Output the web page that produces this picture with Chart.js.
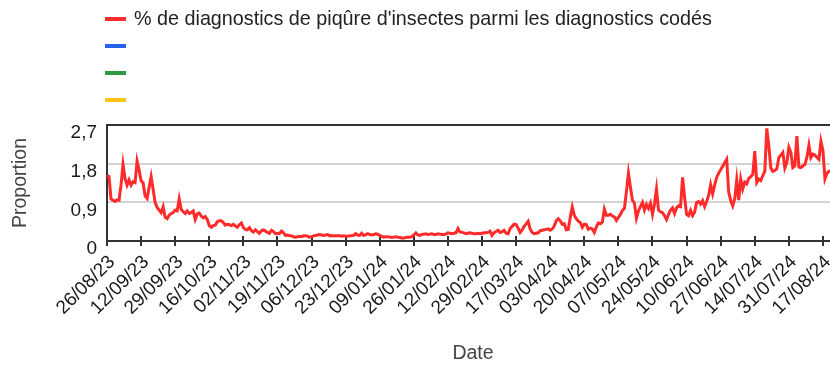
<!DOCTYPE html>
<html lang="fr">
<head>
<meta charset="utf-8">
<script src="https://cdn.jsdelivr.net/npm/chart.js@4.4.1/dist/chart.umd.min.js"></script>
<style>
  html, body { margin: 0; padding: 0; background: #fff; overflow: hidden; width: 830px; height: 365px; }
  #wrap { position: relative; width: 840px; height: 365px; }
  #chart { position: absolute; left: 0; top: 0; }
  #legend { position: absolute; left: 105px; top: 5px; font-family: 'Liberation Sans', Arial, sans-serif; font-size: 19.75px; color: #222; }
  #legend .item { height: 27px; display: flex; align-items: center; white-space: nowrap; }
  #legend .swatch { display: inline-block; width: 21px; height: 4px; margin-right: 8px; }
</style>
</head>
<body>
<div id="wrap">
  <canvas id="chart" width="840" height="365"></canvas>
  <div id="legend"></div>
</div>
<script>
// Axis: one category per day from 26/08/2023
const START = { year: 2023, month: 8, day: 26 };
const AXIS_DAYS = 366;
const TICK_EVERY = 17;

const SERIES_LABEL = "% de diagnostics de piqûre d'insectes parmi les diagnostics codés";
const EXTRA_LABELS = ['', '', ''];

// Daily proportion (%) of insect-bite diagnoses
const proportion = [
  1.52, 1.50, 0.98, 0.95, 0.92, 0.96, 0.95, 1.30, 1.78, 1.45,
  1.30, 1.42, 1.30, 1.38, 1.36, 1.86, 1.65, 1.40, 1.35, 1.05,
  0.99, 1.25, 1.50, 1.20, 0.90, 0.78, 0.72, 0.66, 0.80, 0.55,
  0.52, 0.60, 0.64, 0.66, 0.72, 0.70, 0.98, 0.73, 0.68, 0.64,
  0.70, 0.64, 0.66, 0.70, 0.50, 0.63, 0.65, 0.58, 0.54, 0.57,
  0.50, 0.36, 0.32, 0.36, 0.37, 0.45, 0.47, 0.47, 0.43, 0.37,
  0.39, 0.38, 0.36, 0.39, 0.35, 0.32, 0.38, 0.42, 0.31, 0.27,
  0.26, 0.31, 0.24, 0.21, 0.26, 0.22, 0.18, 0.24, 0.26, 0.23,
  0.20, 0.18, 0.25, 0.22, 0.17, 0.18, 0.17, 0.23, 0.19, 0.13,
  0.14, 0.12, 0.12, 0.10, 0.09, 0.10, 0.11, 0.10, 0.12, 0.12,
  0.11, 0.09, 0.10, 0.12, 0.13, 0.14, 0.15, 0.14, 0.13, 0.14,
  0.15, 0.12, 0.13, 0.12, 0.12, 0.12, 0.12, 0.11, 0.12, 0.11,
  0.11, 0.12, 0.12, 0.13, 0.17, 0.14, 0.13, 0.18, 0.13, 0.15,
  0.17, 0.15, 0.14, 0.15, 0.17, 0.16, 0.13, 0.11, 0.09, 0.10,
  0.10, 0.09, 0.08, 0.09, 0.10, 0.09, 0.08, 0.07, 0.07, 0.08,
  0.09, 0.09, 0.10, 0.14, 0.19, 0.14, 0.13, 0.15, 0.16, 0.17,
  0.15, 0.16, 0.17, 0.15, 0.15, 0.17, 0.16, 0.15, 0.15, 0.16,
  0.19, 0.18, 0.17, 0.18, 0.19, 0.29, 0.21, 0.20, 0.19, 0.17,
  0.18, 0.19, 0.18, 0.17, 0.17, 0.18, 0.17, 0.18, 0.19, 0.19,
  0.20, 0.23, 0.13, 0.19, 0.22, 0.25, 0.20, 0.22, 0.25, 0.18,
  0.17, 0.29, 0.34, 0.39, 0.38, 0.30, 0.20, 0.26, 0.34, 0.40,
  0.46, 0.28, 0.20, 0.17, 0.18, 0.19, 0.24, 0.25, 0.26, 0.27,
  0.28, 0.25, 0.28, 0.35, 0.47, 0.52, 0.47, 0.39, 0.40, 0.26,
  0.27, 0.55, 0.79, 0.60, 0.52, 0.46, 0.43, 0.32, 0.39, 0.38,
  0.27, 0.30, 0.28, 0.20, 0.33, 0.42, 0.40, 0.44, 0.74, 0.60,
  0.60, 0.62, 0.58, 0.56, 0.48, 0.55, 0.62, 0.71, 0.76, 1.15,
  1.58, 1.25, 0.95, 0.88, 0.53, 0.70, 0.80, 0.90, 0.72, 0.85,
  0.76, 0.88, 0.62, 0.86, 1.21, 0.72, 0.68, 0.66, 0.59, 0.50,
  0.62, 0.72, 0.77, 0.64, 0.77, 0.82, 0.80, 1.48, 1.02, 0.62,
  0.59, 0.71, 0.59, 0.67, 0.90, 0.92, 0.86, 0.94, 0.80, 0.92,
  1.06, 1.31, 1.10, 1.30, 1.48, 1.58, 1.66, 1.74, 1.82, 1.90,
  1.14, 0.94, 0.82, 0.98, 1.42, 0.95, 1.44, 1.21, 1.37, 1.33,
  1.46, 1.50, 1.55, 2.09, 1.36, 1.44, 1.41, 1.52, 1.62, 2.62,
  2.22, 1.70, 1.62, 1.64, 1.68, 1.94, 2.00, 2.06, 1.70, 1.83,
  2.18, 2.06, 1.71, 1.75, 2.44, 1.72, 1.71, 1.75, 1.78, 1.95,
  2.23, 1.94, 2.02, 2.00, 1.95, 1.90, 2.32, 2.10, 1.45, 1.58,
  1.62, 1.64
];

const yTickValues = [0, 0.9, 1.8, 2.7];

const COLORS = ['#ff2a2a', '#2563eb', '#2e9a47', '#fbc21a'];
const FONT = "'Liberation Sans', Arial, sans-serif";

function pad2(n) { return String(n).padStart(2, '0'); }
const dates = Array.from({ length: AXIS_DAYS }, (_, i) => {
  const d = new Date(Date.UTC(START.year, START.month - 1, START.day + i));
  return pad2(d.getUTCDate()) + '/' + pad2(d.getUTCMonth() + 1) + '/' + String(d.getUTCFullYear()).slice(2);
});

// Stacked legend rendered as HTML rows from the chart's datasets
const htmlLegend = {
  id: 'htmlLegend',
  afterUpdate(chart) {
    const box = document.getElementById('legend');
    box.innerHTML = '';
    chart.data.datasets.forEach(ds => {
      const row = document.createElement('div');
      row.className = 'item';
      const sw = document.createElement('span');
      sw.className = 'swatch';
      sw.style.background = ds.borderColor;
      const tx = document.createElement('span');
      tx.textContent = ds.label;
      row.append(sw, tx);
      box.append(row);
    });
  }
};

// Small marks above the date axis at each labelled tick
const upperTicks = {
  id: 'upperTicks',
  beforeDatasetsDraw(chart) {
    const sx = chart.scales.x;
    const ctx = chart.ctx;
    ctx.save();
    ctx.strokeStyle = '#333';
    ctx.lineWidth = 2;
    sx.ticks.forEach((t, i) => {
      const px = Math.round(sx.getPixelForTick(i));
      ctx.beginPath();
      ctx.moveTo(px, sx.top - 5);
      ctx.lineTo(px, sx.top);
      ctx.stroke();
    });
    ctx.restore();
  }
};

Chart.defaults.font.family = FONT;

const datasets = [
  { label: SERIES_LABEL, data: proportion, borderColor: COLORS[0], backgroundColor: COLORS[0],
    borderWidth: 3, pointRadius: 0, pointHoverRadius: 0, tension: 0, fill: false }
].concat(EXTRA_LABELS.map((lab, i) => ({
  label: lab, data: [], borderColor: COLORS[i + 1], backgroundColor: COLORS[i + 1],
  borderWidth: 3, pointRadius: 0, fill: false
})));

new Chart(document.getElementById('chart'), {
  type: 'line',
  data: { labels: dates, datasets },
  plugins: [htmlLegend, upperTicks],
  options: {
    responsive: false,
    animation: false,
    events: [],
    layout: { padding: { top: 125, right: 1, bottom: 0, left: 0 } },
    plugins: { legend: { display: false }, tooltip: { enabled: false } },
    scales: {
      x: {
        type: 'category',
        offset: false,
        afterBuildTicks: axis => { axis.ticks = axis.ticks.filter(t => t.value % TICK_EVERY === 0); },
        afterFit: axis => { axis.height = 124; axis.paddingRight = 0; axis.paddingLeft = 0; },
        grid: { drawOnChartArea: false, drawTicks: true, tickLength: 5, color: '#333', lineWidth: 2 },
        border: { display: true, color: '#333', width: 2 },
        ticks: { autoSkip: false, minRotation: 45, maxRotation: 45, padding: 5, labelOffset: 5,
                 color: '#1a1a1a', font: { size: 19 } },
        title: { display: true, text: 'Date', color: '#444', font: { size: 19.5 },
                 padding: { top: 0, bottom: 0 } }
      },
      y: {
        min: 0, max: 2.7,
        afterBuildTicks: axis => { axis.ticks = yTickValues.map(v => ({ value: v })); },
        afterFit: axis => { axis.width = 107; },
        grid: {
          drawTicks: false, lineWidth: 2,
          color: ctx => (ctx.tick && (ctx.tick.value === 0 || ctx.tick.value === 2.7)) ? '#333' : '#d4d4d4'
        },
        border: { display: true, color: '#333', width: 2 },
        ticks: { padding: 10, labelOffset: 8, color: '#1a1a1a', font: { size: 19 },
                 callback: v => String(v).replace('.', ',') },
        title: { display: true, text: 'Proportion', color: '#444', font: { size: 19.5 },
                 padding: { top: 9, bottom: 0 } }
      }
    }
  }
});
</script>
</body>
</html>
